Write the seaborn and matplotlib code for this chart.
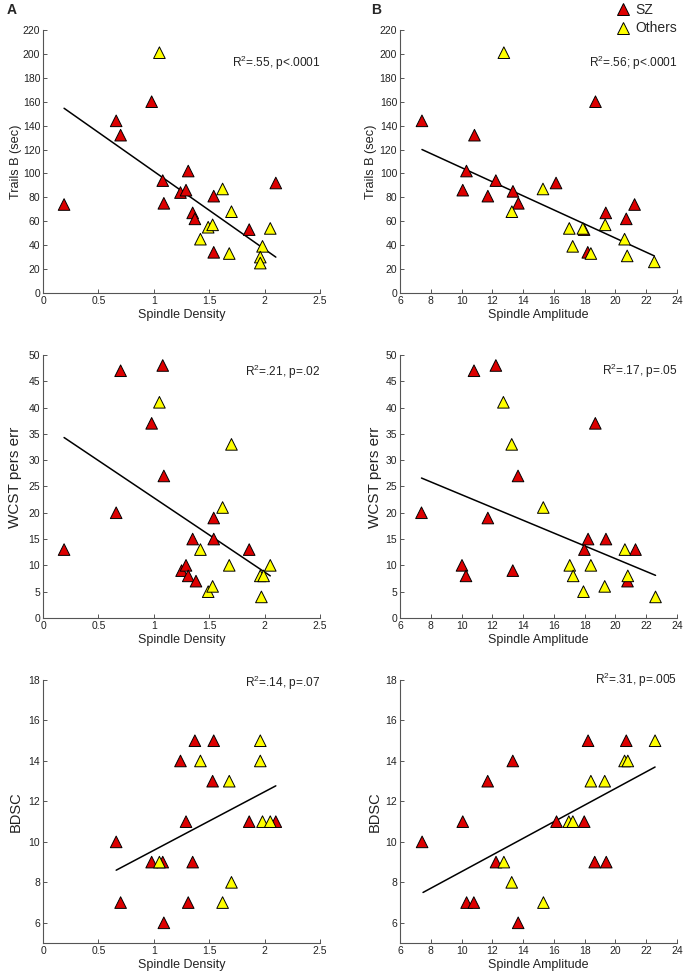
import numpy as np
import pandas as pd
import matplotlib
matplotlib.use("Agg")
import matplotlib.pyplot as plt
import seaborn as sns
from matplotlib.ticker import FuncFormatter, MultipleLocator
from matplotlib.lines import Line2D

# ---------------- data ----------------
# Trails B vs spindle density
trails_dens_sz_x = [0.19, 0.66, 0.70, 0.98, 1.08, 1.09, 1.24, 1.29, 1.31, 1.35, 1.37, 1.54, 1.54, 1.86, 2.10]
trails_dens_sz_y = [74, 144, 132, 160, 94, 75, 84, 86, 102, 67, 62, 81, 34, 53, 92]
trails_dens_ot_x = [1.05, 1.42, 1.49, 1.53, 1.62, 1.70, 1.68, 1.98, 1.96, 1.96, 2.05]
trails_dens_ot_y = [201, 45, 55, 57, 87, 68, 33, 39, 30, 25, 54]
trails_dens_fit_x = [0.19, 2.10]
trails_dens_fit_y = [154.5, 30]

# Trails B vs spindle amplitude
trails_amp_sz_x = [7.43, 10.84, 10.32, 10.08, 11.71, 12.23, 13.34, 13.69, 16.14, 17.96, 18.20, 18.70, 19.37, 20.70, 21.24]
trails_amp_sz_y = [144, 132, 102, 86, 81, 94, 85, 75, 92, 53, 34, 160, 67, 62, 74]
trails_amp_ot_x = [12.75, 13.27, 15.29, 17.00, 17.22, 17.88, 18.40, 19.33, 20.59, 20.76, 22.52]
trails_amp_ot_y = [201, 68, 87, 54, 39, 54, 33, 57, 45, 31, 26]
trails_amp_fit_x = [7.43, 22.52]
trails_amp_fit_y = [120, 31]

# WCST perseverative errors vs spindle density
wcst_dens_sz_x = [0.19, 0.66, 0.70, 0.98, 1.08, 1.09, 1.25, 1.29, 1.31, 1.35, 1.38, 1.54, 1.54, 1.86]
wcst_dens_sz_y = [13, 20, 47, 37, 48, 27, 9, 10, 8, 15, 7, 19, 15, 13]
wcst_dens_ot_x = [1.05, 1.42, 1.49, 1.53, 1.62, 1.70, 1.68, 1.96, 1.99, 1.97, 2.05]
wcst_dens_ot_y = [41, 13, 5, 6, 21, 33, 10, 8, 8, 4, 10]
wcst_dens_fit_x = [0.19, 2.05]
wcst_dens_fit_y = [34.3, 8.0]

# WCST perseverative errors vs spindle amplitude
wcst_amp_sz_x = [7.40, 10.03, 10.29, 10.81, 11.71, 12.23, 13.33, 13.67, 17.98, 18.22, 18.69, 19.38, 20.78, 21.30]
wcst_amp_sz_y = [20, 10, 8, 47, 19, 48, 9, 27, 13, 15, 37, 15, 7, 13]
wcst_amp_ot_x = [12.72, 13.26, 15.31, 17.03, 17.25, 17.92, 18.40, 19.30, 20.61, 20.80, 22.60]
wcst_amp_ot_y = [41, 33, 21, 10, 8, 5, 10, 6, 13, 8, 4]
wcst_amp_fit_x = [7.40, 22.60]
wcst_amp_fit_y = [26.6, 8.1]

# BDSC vs spindle density
bdsc_dens_sz_x = [0.66, 0.70, 0.98, 1.08, 1.09, 1.24, 1.29, 1.31, 1.35, 1.37, 1.54, 1.53, 1.86, 2.10]
bdsc_dens_sz_y = [10, 7, 9, 9, 6, 14, 11, 7, 9, 15, 15, 13, 11, 11]
bdsc_dens_ot_x = [1.05, 1.42, 1.62, 1.68, 1.70, 1.96, 1.96, 1.98, 2.05]
bdsc_dens_ot_y = [9, 14, 7, 13, 8, 15, 14, 11, 11]
bdsc_dens_fit_x = [0.66, 2.10]
bdsc_dens_fit_y = [8.6, 12.77]

# BDSC vs spindle amplitude
bdsc_amp_sz_x = [7.44, 10.08, 10.33, 10.80, 11.70, 12.24, 13.33, 13.68, 16.17, 17.97, 18.22, 18.65, 19.40, 20.70]
bdsc_amp_sz_y = [10, 11, 7, 7, 13, 9, 14, 6, 11, 11, 15, 9, 9, 15]
bdsc_amp_ot_x = [12.75, 13.26, 15.32, 16.97, 17.23, 18.40, 19.30, 20.59, 20.80, 22.57]
bdsc_amp_ot_y = [9, 8, 7, 11, 11, 13, 13, 14, 14, 15]
bdsc_amp_fit_x = [7.5, 22.57]
bdsc_amp_fit_y = [7.5, 13.7]

stats_text = ["R$^2$=.55, p<.0001", "R$^2$=.56; p<.0001",
              "R$^2$=.21, p=.02", "R$^2$=.17, p=.05",
              "R$^2$=.14, p=.07", "R$^2$=.31, p=.005"]
y_labels = ["Trails B (sec)", "WCST pers err", "BDSC"]
x_labels = ["Spindle Density", "Spindle Amplitude"]
group_names = ["SZ", "Others"]

# ---------------- style ----------------
sns.set_style("ticks")
plt.rcParams["font.family"] = ["Liberation Sans", "DejaVu Sans"]
plt.rcParams["mathtext.default"] = "regular"
plt.rcParams["xtick.direction"] = "in"
plt.rcParams["ytick.direction"] = "in"

RED = "#dd0000"
YEL = "#ffff00"
palette = {"SZ": RED, "Others": YEL}
AXC = "#555555"
TXT = "#222222"


def make_df(sz_x, sz_y, ot_x, ot_y):
    return pd.DataFrame({
        "x": list(sz_x) + list(ot_x),
        "y": list(sz_y) + list(ot_y),
        "group": ["SZ"] * len(sz_x) + ["Others"] * len(ot_x),
    })


panels = [
    make_df(trails_dens_sz_x, trails_dens_sz_y, trails_dens_ot_x, trails_dens_ot_y),
    make_df(trails_amp_sz_x, trails_amp_sz_y, trails_amp_ot_x, trails_amp_ot_y),
    make_df(wcst_dens_sz_x, wcst_dens_sz_y, wcst_dens_ot_x, wcst_dens_ot_y),
    make_df(wcst_amp_sz_x, wcst_amp_sz_y, wcst_amp_ot_x, wcst_amp_ot_y),
    make_df(bdsc_dens_sz_x, bdsc_dens_sz_y, bdsc_dens_ot_x, bdsc_dens_ot_y),
    make_df(bdsc_amp_sz_x, bdsc_amp_sz_y, bdsc_amp_ot_x, bdsc_amp_ot_y),
]
fits = [
    (trails_dens_fit_x, trails_dens_fit_y), (trails_amp_fit_x, trails_amp_fit_y),
    (wcst_dens_fit_x, wcst_dens_fit_y), (wcst_amp_fit_x, wcst_amp_fit_y),
    (bdsc_dens_fit_x, bdsc_dens_fit_y), (bdsc_amp_fit_x, bdsc_amp_fit_y),
]

fig = plt.figure(figsize=(6.86, 9.73), dpi=100)

lefts = [0.0627, 0.583]
width = 0.404
bottoms = [0.6989, 0.3649, 0.0308]
height = 0.2703
ylims = [(0, 220, 20), (0, 50, 5), (5, 18, 2)]
xlims = [(0, 2.5, 0.5), (6, 24, 2)]
ylabel_size = [9.2, 11, 10.5]
# y-label anchor (axes fraction) per panel
ylabel_xy = [(-0.076, 0.5), (-0.083, 0.5), (-0.076, 0.536), (-0.065, 0.536),
             (-0.072, 0.5), (-0.065, 0.5)]
text_y = [0.875, 0.875, 0.935, 0.94, 0.99, 1.0]

fmt = FuncFormatter(lambda v, p: f"{v:g}")

for i, df in enumerate(panels):
    row, col = divmod(i, 2)
    ax = fig.add_axes([lefts[col], bottoms[row], width, height])
    fx, fy = fits[i]
    sns.lineplot(x=fx, y=fy, color="black", lw=1.1, ax=ax)
    sns.scatterplot(data=df, x="x", y="y", hue="group", palette=palette,
                    marker="^", s=70, edgecolor="black", linewidth=0.7,
                    legend=False, ax=ax, zorder=3)
    x0, x1, xs = xlims[col]
    y0, y1, ys = ylims[row]
    ax.set_xlim(x0, x1)
    ax.set_ylim(y0, y1)
    ax.xaxis.set_major_locator(MultipleLocator(xs))
    ax.yaxis.set_major_locator(MultipleLocator(ys))
    ax.xaxis.set_major_formatter(fmt)
    ax.yaxis.set_major_formatter(fmt)
    ax.tick_params(length=3, width=0.7, labelsize=7.5, color=AXC, labelcolor=TXT, pad=2)
    sns.despine(ax=ax)
    for sp in ("left", "bottom"):
        ax.spines[sp].set_color(AXC)
        ax.spines[sp].set_linewidth(0.8)
    ax.set_xlabel(x_labels[col], fontsize=9, color=TXT, labelpad=2)
    ax.set_ylabel(y_labels[row], fontsize=ylabel_size[row], color=TXT)
    ax.yaxis.set_label_coords(*ylabel_xy[i])
    ax.text(1.0, text_y[i], stats_text[i], transform=ax.transAxes,
            ha="right", va="center", fontsize=8.6, color=TXT)

fig.text(0.009, 0.997, "A", fontsize=10, fontweight="bold", va="top")
fig.text(0.541, 0.997, "B", fontsize=10, fontweight="bold", va="top")

handles = [Line2D([], [], marker="^", linestyle="none", markersize=9,
                  markerfacecolor=palette[g], markeredgecolor="black",
                  markeredgewidth=0.7, label=g) for g in group_names]
fig.legend(handles=handles, loc="upper left", bbox_to_anchor=(0.888, 1.003),
           frameon=False, fontsize=10, handletextpad=0.3, labelspacing=0.35,
           borderaxespad=0, handlelength=1.2)

fig.savefig("out.png", dpi=100)
